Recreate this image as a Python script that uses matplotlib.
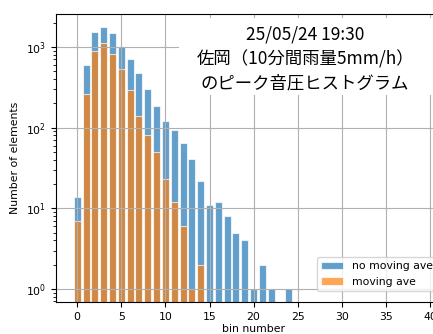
import numpy as np
import matplotlib.pyplot as plt
from matplotlib.patches import Rectangle

# counts per bin
bins = np.arange(0, 41)
no_moving_ave = [14, 598, 1534, 1755, 1490, 992, 703, 472, 301, 184,
                 121, 93, 64, 41, 22, 11, 12, 8, 5, 4,
                 1, 2, 1, 0, 1] + [0] * 16
moving_ave = [7, 264, 900, 1110, 826, 533, 290, 141, 80, 50,
              23, 12, 6, 1, 2] + [0] * 26

title = "25/05/24 19:30\n佐岡（10分間雨量5mm/h）\nのピーク音圧ヒストグラム"

plt.rcParams['font.size'] = 7.5

fig = plt.figure(figsize=(4.33, 3.34), dpi=100)
# axes runs past the right edge, like the cropped original
ax = fig.add_axes([55.7 / 433, 1 - 302 / 334, (451.5 - 55.7) / 433, 288 / 334])

ax.bar(bins, no_moving_ave, width=0.8, color="#1f77b4", alpha=0.7,
       edgecolor="white", linewidth=0.8, label="no moving ave")
ax.bar(bins, moving_ave, width=0.8, color="#ff7f0e", alpha=0.7,
       edgecolor="white", linewidth=0.8, label="moving ave")

ax.set_yscale("log")
ax.set_xlim(-2.44, 42.44)
ax.set_ylim(0.69, 2565)
ax.set_xticks(np.arange(0, 45, 5))
ax.tick_params(labelsize=7.8)
ax.grid(True)
ax.set_xlabel("bin number", fontsize=7.8, labelpad=2)
ax.set_ylabel("Number of elements", fontsize=7.8)

ax.legend(loc="lower left", bbox_to_anchor=(317 / 433, 1 - 291 / 334),
          bbox_transform=fig.transFigure, borderaxespad=0, fontsize=7.8)

# white panel behind the title text
fig.patches.append(Rectangle((179 / 433, 1 - 95 / 334), 300 / 433, 77 / 334,
                             transform=fig.transFigure, facecolor="white",
                             edgecolor="none", zorder=2))
fig.text(305 / 433, 1 - 59 / 334, title, ha="center", va="center",
         fontsize=12.5, linespacing=1.45, zorder=3,
         family=["Noto Sans CJK JP", "DejaVu Sans"])

fig.savefig("out.png", dpi=100)
